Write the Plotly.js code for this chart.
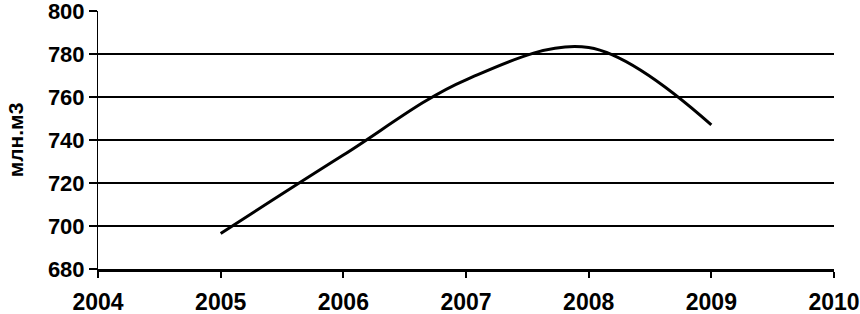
<!DOCTYPE html>
<html>
<head>
<meta charset="utf-8">
<script src="https://cdn.plot.ly/plotly-3.0.1.min.js"></script>
<style>
html,body{margin:0;padding:0;background:#fff;}
#chart{width:860px;height:314px;}
</style>
</head>
<body>
<div id="chart"></div>
<script>
var years = [2005, 2006, 2007, 2008, 2009];
var volume = [696.5, 733, 768, 783, 747];
var xTicks = [2004, 2005, 2006, 2007, 2008, 2009, 2010];
var yTicks = [680, 700, 720, 740, 760, 780, 800];
var gridVals = [680, 700, 720, 740, 760, 780];
var yTitle = 'млн.м3';

var fontFam = '"Liberation Sans", Arial, sans-serif';

var data = [
  {
    x: years, y: volume, type: 'scatter', mode: 'lines',
    line: {color: '#000', width: 3, shape: 'spline', smoothing: 1},
    hoverinfo: 'skip', showlegend: false
  },
  {
    x: years, y: volume, type: 'scatter', mode: 'none', yaxis: 'y2',
    hoverinfo: 'skip', showlegend: false
  }
];

var layout = {
  width: 860, height: 314,
  margin: {l: 98, r: 26, t: 11, b: 45},
  paper_bgcolor: '#fff', plot_bgcolor: '#fff',
  showlegend: false,
  xaxis: {
    range: [2004, 2010], tickvals: xTicks, ticktext: xTicks.map(String),
    showgrid: false, zeroline: false,
    showline: true, linecolor: '#000', linewidth: 3,
    ticks: 'outside', ticklen: 6, tickwidth: 2, tickcolor: '#000',
    ticklabelstandoff: 4, ticklabeloverflow: 'allow',
    tickfont: {family: fontFam, size: 23, color: '#000', weight: 'bold'}
  },
  yaxis: {
    range: [680, 800], tickvals: yTicks, ticktext: yTicks.map(String),
    showgrid: false, zeroline: false,
    showline: true, linecolor: '#000', linewidth: 1,
    ticks: 'outside', ticklen: 8, tickwidth: 2, tickcolor: '#000',
    ticklabeloverflow: 'allow',
    tickfont: {family: fontFam, size: 22, color: '#000', weight: 'bold'},
    title: {text: yTitle, standoff: 18, font: {family: fontFam, size: 21, color: '#000', weight: 'bold'}}
  },
  yaxis2: {
    range: [680, 800], overlaying: 'y', tickvals: gridVals,
    showgrid: true, gridcolor: '#000', gridwidth: 2,
    showticklabels: false, ticks: '', zeroline: false, showline: false
  }
};

Plotly.newPlot('chart', data, layout, {staticPlot: true, displayModeBar: false});
</script>
</body>
</html>
